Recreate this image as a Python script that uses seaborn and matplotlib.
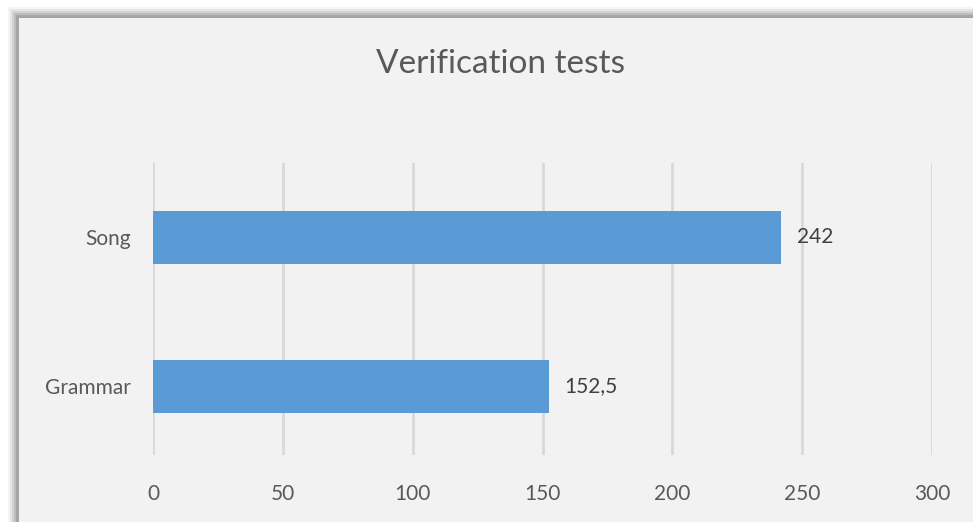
import matplotlib.pyplot as plt
import matplotlib.patches as patches
import seaborn as sns
import pandas as pd

categories = ["Song", "Grammar"]
values = [242, 152.5]
value_labels = ["242", "152,5"]
x_ticks = [0, 50, 100, 150, 200, 250, 300]

df = pd.DataFrame({"test": categories, "score": values})

sns.set_style("white")
plt.rcParams["font.family"] = ["Lato", "DejaVu Sans"]

fig = plt.figure(figsize=(9.73, 5.22), dpi=100)
fig.patch.set_facecolor("white")

# soft shadow behind the chart panel
for i, a in enumerate([0.04, 0.06, 0.08, 0.10, 0.12]):
    off = 11 - i * 2
    fig.patches.append(patches.Rectangle(((19 - off) / 973, 0), 1, 1 - (18 - off) / 522,
                                         transform=fig.transFigure, facecolor="black",
                                         alpha=a, edgecolor="none", zorder=-3))
fig.patches.append(patches.Rectangle((19 / 973, 0), 1, 1 - 18 / 522,
                                     transform=fig.transFigure, facecolor="#f2f2f2",
                                     edgecolor="none", zorder=-2))

ax = fig.add_axes([153 / 973, 1 - 455 / 522, (932 - 153) / 973, (455 - 163) / 522])
ax.set_facecolor("none")

sns.barplot(data=df, x="score", y="test", orient="h", color="#5b9bd5",
            saturation=1, width=0.36, linewidth=0, ax=ax, zorder=3)

ax.set_xlim(0, 300)
ax.set_ylim(1.46, -0.5)
ax.set_xticks(x_ticks)
ax.set_xticklabels([str(t) for t in x_ticks])
ax.grid(axis="x", color="#d9d9d9", linewidth=2, zorder=0)
ax.set_axisbelow(True)
for s in ax.spines.values():
    s.set_visible(False)
ax.tick_params(axis="both", length=0, labelsize=15, colors="#595959")
ax.tick_params(axis="x", pad=21)
ax.tick_params(axis="y", pad=16)
ax.set_xlabel("")
ax.set_ylabel("")

for i, (v, lab) in enumerate(zip(values, value_labels)):
    ax.text(v + 6, i, lab, va="center", ha="left", fontsize=15, color="#404040")

fig.text(500 / 973, 1 - 64 / 522, "Verification tests", ha="center", va="center",
         fontsize=24, color="#595959")

fig.savefig("out.png", dpi=100)
